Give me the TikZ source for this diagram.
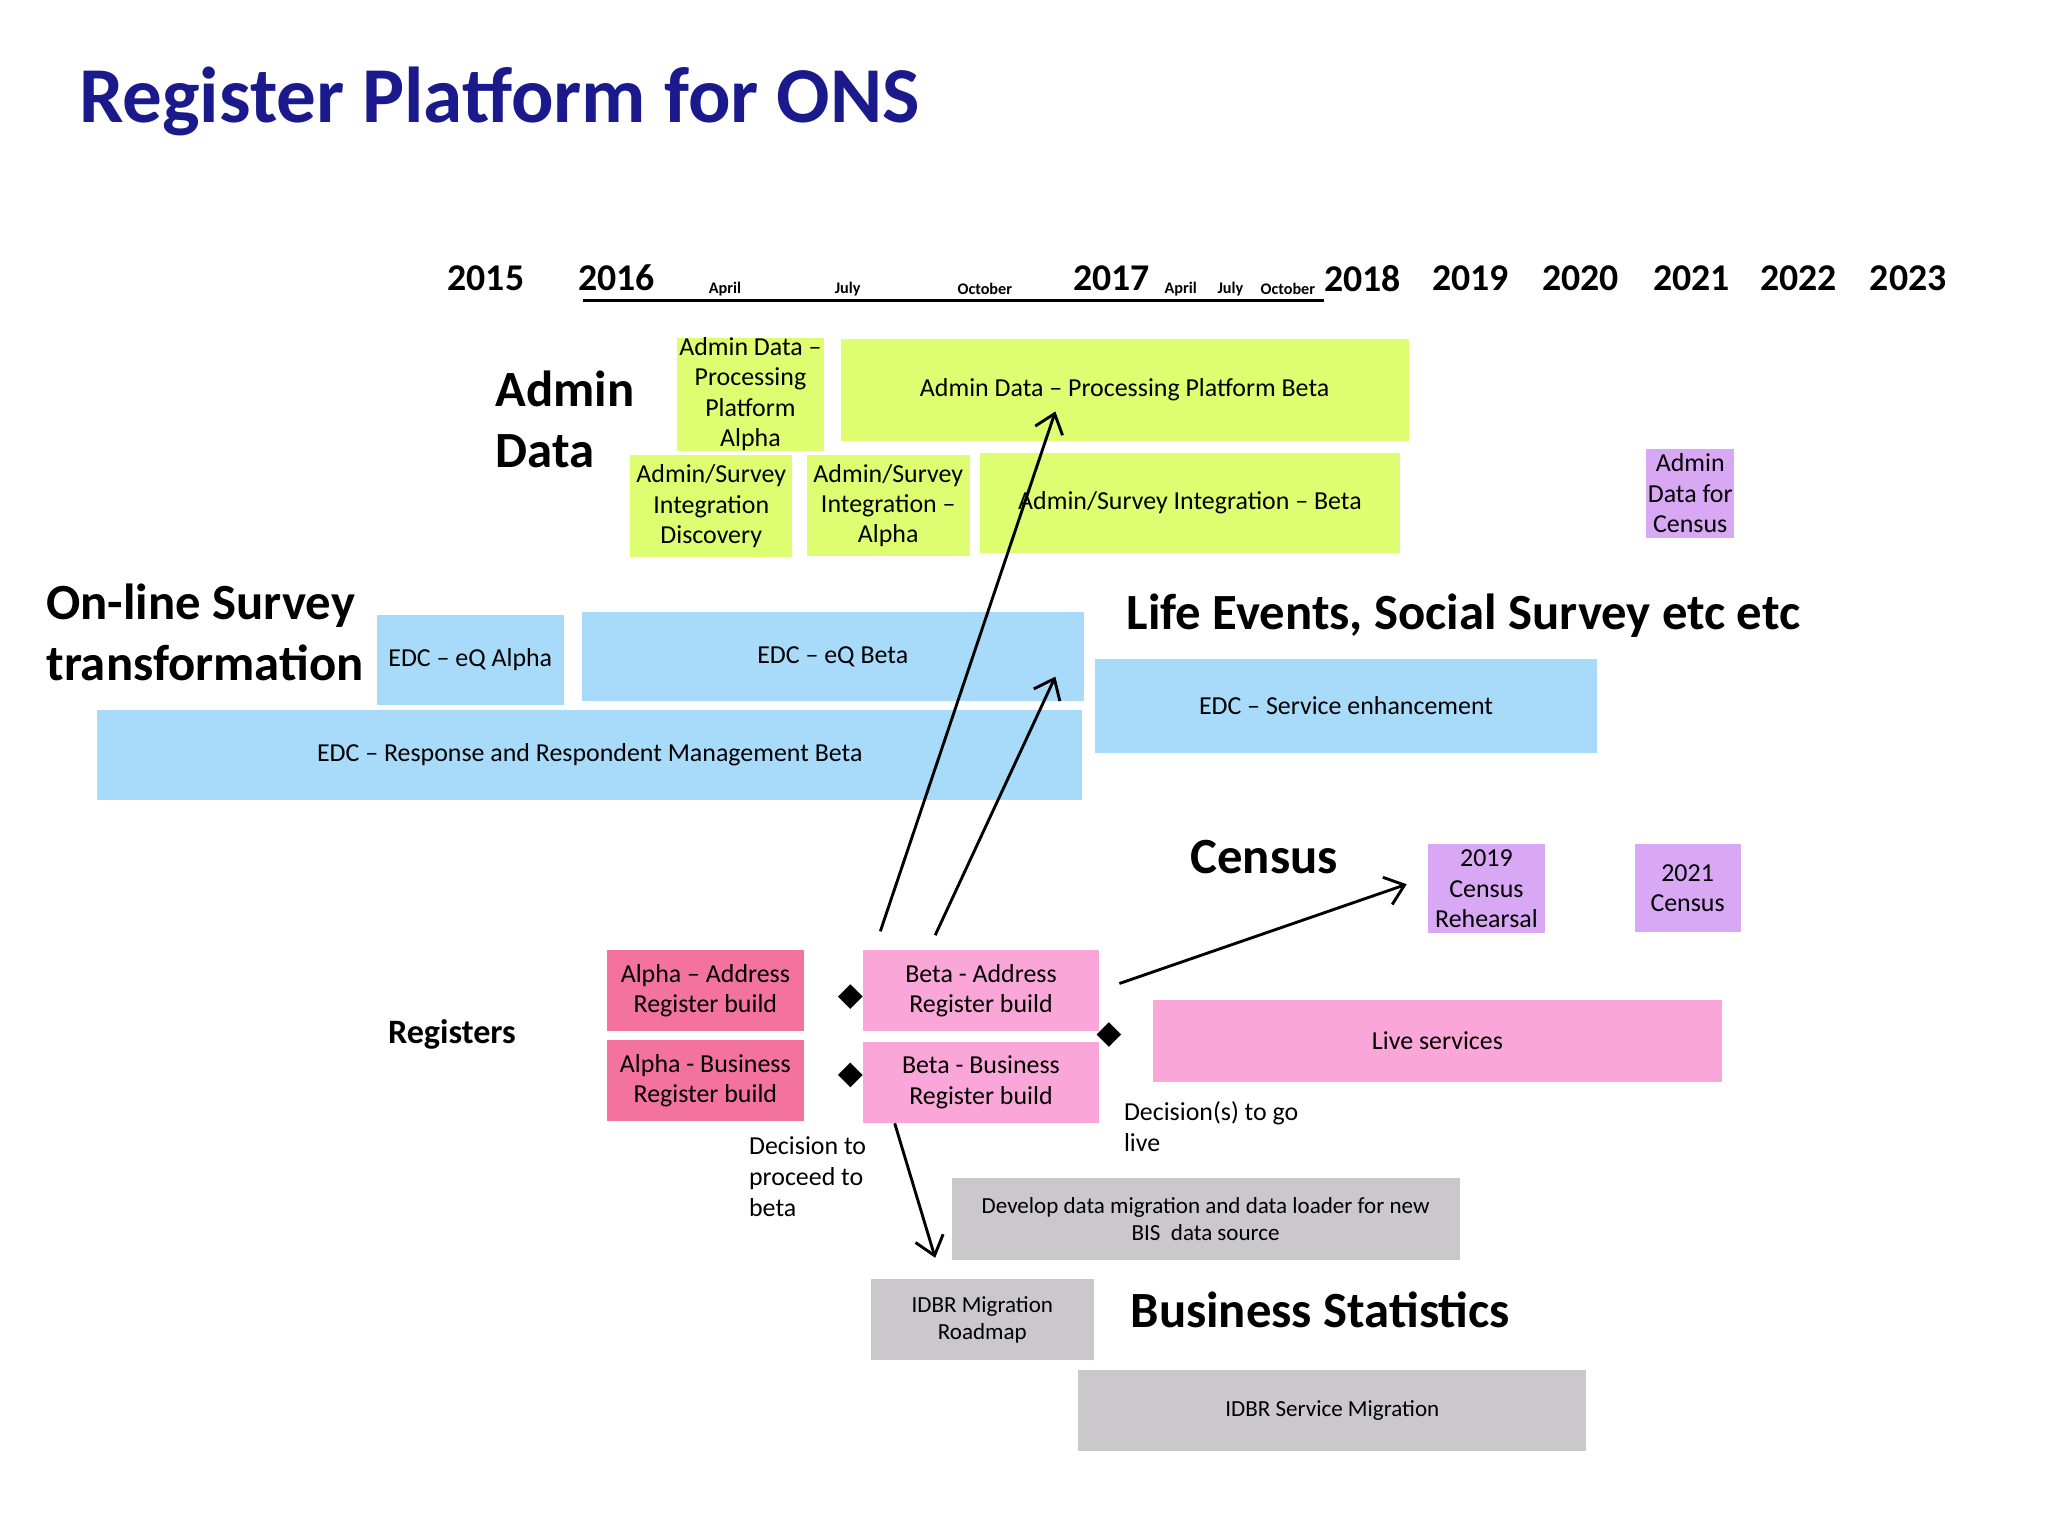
\documentclass[tikz,border=0pt]{standalone}
\usepackage{fontspec}
\setmainfont{Carlito}
\usetikzlibrary{positioning}
\usetikzlibrary{arrows.meta}
\usetikzlibrary{shapes.geometric}
\definecolor{titleblue}{RGB}{26,26,140}
\definecolor{admingreen}{RGB}{222,253,112}
\definecolor{edcblue}{RGB}{168,218,250}
\definecolor{censuspurple}{RGB}{217,168,245}
\definecolor{alphapink}{RGB}{243,115,158}
\definecolor{betapink}{RGB}{250,166,216}
\definecolor{bisgrey}{RGB}{202,200,202}
\newlength{\unitpx}
\setlength{\unitpx}{0.01276cm}
\tikzset{
        task/.style={anchor=north west, inner sep=0pt, align=center,
          font=\fontsize{7.2}{8.4}\selectfont},
        green task/.style={task, fill=admingreen},
        blue task/.style={task, fill=edcblue},
        purple task/.style={task, fill=censuspurple},
        alpha task/.style={task, fill=alphapink},
        beta task/.style={task, fill=betapink},
        grey task/.style={task, fill=bisgrey, font=\fontsize{6.4}{7.5}\selectfont},
        heading/.style={anchor=west, align=left, inner sep=0pt, font=\fontsize{14.1}{17}\selectfont\bfseries},
        year/.style={font=\fontsize{10.5}{12}\selectfont\bfseries},
        month/.style={font=\fontsize{4.5}{5}\selectfont\bfseries},
        note/.style={anchor=north west, align=left, inner sep=0pt, font=\fontsize{7.2}{8.6}\selectfont},
        milestone/.style={diamond, fill=black, inner sep=0pt, minimum size=7pt},
        link/.style={-{Straight Barb[length=5pt,width=8pt]}, thick}
}
% box from top left (x1,y1) to bottom right (x2,y2), in pixels
\newcommand{\taskbox}[7]{\node[#2, minimum width={(#5-#3)*\unitpx}, minimum height={(#6-#4)*\unitpx}] (#1) at (#3,#4) {#7};}

\begin{document}
\begin{tikzpicture}[x=\unitpx, y=-\unitpx]
      \fill[white] (0,0) rectangle (1568,1176);
      % TITLE
      \node[anchor=west, inner sep=0pt, text=titleblue, font=\fontsize{22}{24}\selectfont\bfseries] (title) at (60,78) {Register Platform for ONS};

      % TIMELINE
      \draw[thick] (446,230) coordinate (tstart) -- (1014,230) coordinate (tend);
      \foreach \x/\yr in {372/2015, 472/2016, 851/2017, 1043/2018, 1126/2019, 1210/2020, 1295/2021, 1377/2022, 1461/2023}
        \node[year] (y\yr) at (\x,213) {\yr};
      \foreach \x/\mo [count=\i] in {555/April, 649/July, 754/April, 904/April, 942/July, 986/October}
        \node[month] (m\i) at (\x,221) {\ifnum\i=3 October\else\mo\fi};

      % ADMIN DATA
      \node[heading] (admin) at (379,321) {Admin\\Data};
      \taskbox{adppa}{green task}{518}{258}{630}{337}{Admin Data --\\Processing\\Platform\\Alpha}
      \taskbox{adppb}{green task}{643}{259}{1078}{337}{Admin Data -- Processing Platform Beta}
      \taskbox{asid}{green task}{482}{348}{606}{426}{Admin/Survey\\Integration\\Discovery}
      \taskbox{asia}{green task}{617}{348}{742}{425}{Admin/Survey\\Integration --\\Alpha}
      \taskbox{asib}{green task}{750}{346}{1071}{423}{Admin/Survey Integration -- Beta}
      \taskbox{adcensus}{purple task}{1260}{343}{1327}{411}{Admin\\Data for\\Census}

      % ON-LINE SURVEY
      \node[heading] (survey) at (35,484) {On-line Survey\\transformation};
      \node[heading] (life) at (862,471) {Life Events, Social Survey etc etc};
      \taskbox{eqalpha}{blue task}{288}{470}{431}{539}{EDC -- eQ Alpha}
      \taskbox{eqbeta}{blue task}{445}{468}{829}{536}{EDC -- eQ Beta}
      \taskbox{service}{blue task}{838}{504}{1222}{576}{EDC -- Service enhancement}
      \taskbox{response}{blue task}{74}{543}{828}{612}{EDC -- Response and Respondent Management Beta}

      % CENSUS
      \node[heading] (census) at (911,656) {Census};
      \taskbox{rehearsal}{purple task}{1093}{646}{1182}{714}{2019\\Census\\Rehearsal}
      \taskbox{census21}{purple task}{1251}{646}{1332}{713}{2021\\Census}

      % REGISTERS
      \node[font=\fontsize{9.5}{11}\selectfont\bfseries] (registers) at (346,792) {Registers};
      \taskbox{alphaaddr}{alpha task}{464}{727}{615}{789}{Alpha -- Address\\Register build}
      \taskbox{alphabus}{alpha task}{464}{796}{615}{858}{Alpha - Business\\Register build}
      \taskbox{betaaddr}{beta task}{660}{727}{841}{789}{Beta - Address\\Register build}
      \taskbox{betabus}{beta task}{660}{797}{841}{859}{Beta - Business\\Register build}
      \taskbox{live}{beta task}{882}{765}{1318}{828}{Live services}
      \node[milestone] (d1) at (651,763) {};
      \node[milestone] (d2) at (651,823) {};
      \node[milestone] (d3) at (849,792) {};
      \node[note] (proceed) at (573,870) {Decision to\\proceed to\\beta};
      \node[note] (golive) at (860,843) {Decision(s) to go\\live};

      % BUSINESS STATISTICS
      \node[heading] (business) at (865,1003) {Business Statistics};
      \taskbox{develop}{grey task}{728}{901}{1117}{964}{Develop data migration and data loader for new\\BIS\ \ data source}
      \taskbox{idbrroad}{grey task}{666}{979}{837}{1041}{IDBR Migration\\Roadmap}
      \taskbox{idbrserv}{grey task}{825}{1048}{1214}{1110}{IDBR Service Migration}

      % ARROWS
      \coordinate (a1s) at (674,713);
      \coordinate (a1e) at (808,315);
      \coordinate (a2s) at (716,716);
      \coordinate (a2e) at (808,518);
      \coordinate (a3s) at (857,753);
      \coordinate (a3e) at (1077,677);
      \coordinate (a4s) at (685,860);
      \coordinate (a4e) at (716,963);
      \draw[link] (a1s) -- (a1e);
      \draw[link] (a2s) -- (a2e);
      \draw[link] (a3s) -- (a3e);
      \draw[link] (a4s) -- (a4e);
\end{tikzpicture}
\end{document}
